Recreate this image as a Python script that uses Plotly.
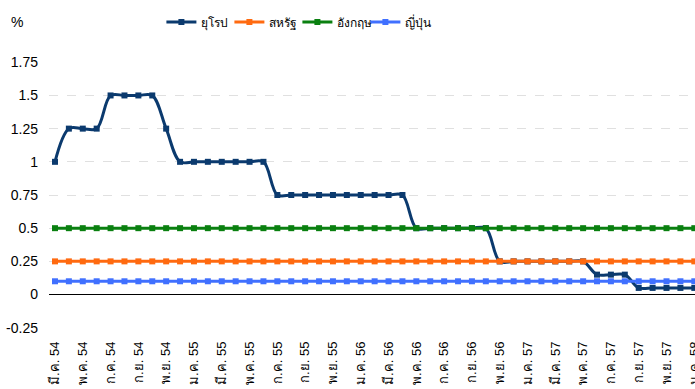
import plotly.graph_objects as go

thai_months = ["ม.ค.", "ก.พ.", "มี.ค.", "เม.ย.", "พ.ค.", "มิ.ย.",
               "ก.ค.", "ส.ค.", "ก.ย.", "ต.ค.", "พ.ย.", "ธ.ค."]
# Monthly categories from มี.ค. 54 to ม.ค. 58
months = []
for yy in range(54, 59):
    for mi, m in enumerate(thai_months):
        if (yy == 54 and mi < 2) or (yy == 58 and mi > 0):
            continue
        months.append(f"{m} {yy}")

tick_labels = months[::2]

europe = [1.0, 1.25, 1.25, 1.25, 1.5, 1.5, 1.5, 1.5, 1.25, 1.0,
          1.0, 1.0, 1.0, 1.0, 1.0, 1.0,
          0.75, 0.75, 0.75, 0.75, 0.75, 0.75, 0.75, 0.75, 0.75, 0.75,
          0.5, 0.5, 0.5, 0.5, 0.5, 0.5,
          0.25, 0.25, 0.25, 0.25, 0.25, 0.25, 0.25,
          0.15, 0.15, 0.15,
          0.05, 0.05, 0.05, 0.05, 0.05]
usa = [0.25] * 47
uk = [0.5] * 47
japan = [0.1] * 47

series = [
    ("ยุโรป", europe, "#0B3A6E", "spline"),
    ("สหรัฐ", usa, "#FF6A10", "linear"),
    ("อังกฤษ", uk, "#0A8010", "linear"),
    ("ญี่ปุ่น", japan, "#4070FF", "linear"),
]

FONT = "Arial, 'Liberation Sans', 'Noto Sans', sans-serif"

fig = go.Figure()
for name, vals, color, shape in series:
    fig.add_trace(go.Scatter(
        x=months, y=vals, name=name, mode="lines+markers",
        line=dict(color=color, width=3, shape=shape, smoothing=1.0),
        marker=dict(symbol="square", size=6, color=color),
    ))

fig.update_layout(
    width=695, height=389,
    margin=dict(l=49, r=0, t=62, b=61),
    plot_bgcolor="white", paper_bgcolor="white",
    font=dict(family=FONT, size=14, color="#000000"),
    showlegend=True,
    legend=dict(orientation="h", x=0.174, xanchor="left", y=1.15, yanchor="middle",
                font=dict(size=12), itemwidth=30, tracegroupgap=0,
                entrywidthmode="pixels", entrywidth=23,
                bgcolor="rgba(0,0,0,0)"),
    xaxis=dict(
        type="category", range=[-0.43, 46.05],
        tickmode="array", tickvals=tick_labels, ticktext=tick_labels,
        tickangle=-90, tickfont=dict(size=13),
        showgrid=False, showline=False, ticks="", ticklabelstandoff=10,
        automargin=False,
    ),
    yaxis=dict(
        range=[-0.252, 1.752], tickmode="array",
        tickvals=[-0.25, 0, 0.25, 0.5, 0.75, 1, 1.25, 1.5, 1.75],
        ticktext=["-0.25", "0", "0.25", "0.5", "0.75", "1", "1.25", "1.5", "1.75"],
        showgrid=True, gridcolor="#E0E0E0", griddash="dash", gridwidth=1,
        zeroline=True, zerolinecolor="#000000", zerolinewidth=1,
        showline=False, ticks="", ticklabelstandoff=10, automargin=False,
    ),
    annotations=[dict(text="%", xref="paper", yref="paper", x=-0.062, y=1.15,
                      xanchor="left", yanchor="middle", showarrow=False,
                      font=dict(size=14))],
)

fig.write_html("out.html", config={"displayModeBar": False},
               post_script="document.body.style.margin='0';document.body.style.padding='0';")
